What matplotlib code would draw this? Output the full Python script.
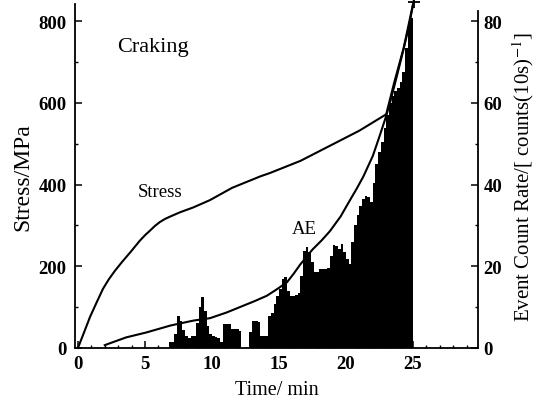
import numpy as np
import matplotlib
matplotlib.use("Agg")
import matplotlib.pyplot as plt
from matplotlib.ticker import MultipleLocator

plt.rcParams['font.family'] = ['Liberation Serif', 'DejaVu Serif']
plt.rcParams['mathtext.fontset'] = 'stix'

# ---- data ----
# AE event count rate histogram: bins of 0.2 min from 6.8 to 25.0 min
bin_start = 6.8
bin_width = 0.2
ae_counts = [
    1.5, 1.5, 3.5, 7.9, 6.5, 4.5, 3.0, 2.5, 3.0, 3.0,      # 6.8 - 8.8
    6.0, 10.0, 12.5, 9.0, 5.5, 3.5, 3.0, 2.7, 2.5, 1.5,    # 8.8 - 10.8
    5.8, 5.9, 5.8, 4.7, 4.7, 4.6, 4.2, 0.0, 0.0, 0.0,      # 10.8 - 12.8
    4.0, 6.6, 6.6, 6.4, 3.0, 3.0, 3.0, 7.9, 8.5, 10.8,     # 12.8 - 14.8
    12.8, 14.5, 16.9, 17.4, 14.0, 12.8, 12.8, 13.0, 13.5, 17.7,  # 14.8 - 16.8
    23.8, 24.8, 23.5, 21.1, 18.6, 18.6, 19.4, 19.4, 19.4, 19.6,  # 16.8 - 18.8
    22.6, 25.3, 25.0, 24.2, 25.5, 23.5, 21.8, 20.6, 26.0, 30.0,  # 18.8 - 20.8
    32.5, 34.8, 36.5, 37.3, 37.0, 35.8, 40.5, 45.0, 48.0, 50.5,  # 20.8 - 22.8
    53.8, 57.0, 60.0, 61.8, 63.0, 63.6, 65.0, 67.5, 73.5, 79.0,  # 22.8 - 24.8
    80.7,                                                       # 24.8 - 25.0
]

# Stress curve (MPa)
stress_t = [0.0, 0.5, 0.9, 1.4, 1.87, 2.3, 2.76, 3.3, 3.9, 4.6, 5.0, 5.4, 5.75, 6.1,
            6.5, 6.9, 7.6, 8.6, 9.85, 11.5, 13.6, 14.3, 16.6, 18.8, 21.0, 23.0,
            23.6, 24.3, 25.05]
stress_v = [0, 42, 76, 112, 145, 168, 189, 211, 234, 262, 276, 288, 299, 308,
            316, 322, 332, 344, 362, 392, 420, 428, 458, 495, 532, 572,
            650, 734, 849]

# AE curve (right axis units)
ae_t = [2.0, 3.6, 5.1, 6.9, 8.6, 9.85, 11.1, 12.3, 13.2, 14.1, 14.9, 15.6, 16.1, 16.6,
        17.5, 18.2, 18.8, 19.6, 20.3, 20.8, 21.3, 22.0, 22.5, 23.0, 23.3, 23.8,
        24.3, 24.7, 25.05]
ae_v = [0.7, 2.6, 3.8, 5.5, 6.7, 7.3, 8.7, 10.3, 11.5, 12.8, 14.5, 16.1, 18.2, 20.5,
        24.1, 26.4, 28.6, 32.2, 36.2, 39.0, 42.0, 47.0, 51.8, 56.8, 60.2, 66.6,
        73.2, 78.8, 84.9]

x_ticks = [0, 5, 10, 15, 20, 25]
y_left_ticks = [0, 200, 400, 600, 800]
y_right_ticks = [0, 20, 40, 60, 80]

# ---- figure ----
W, H = 542, 406
fig = plt.figure(figsize=(W / 100, H / 100), dpi=100)
ax1 = fig.add_axes([75 / W, 1 - 349 / H, (478 - 75) / W, (349 - 5) / H])
ax2 = ax1.twinx()

ymax = 842
ax1.set_xlim(-0.22, 29.85)
ax1.set_ylim(0, ymax)
ax2.set_ylim(0, ymax / 10)

centers = bin_start + bin_width * (np.arange(len(ae_counts)) + 0.5)
ax2.bar(centers, ae_counts, width=bin_width, color='black', linewidth=0, zorder=1)
ax2.plot(ae_t, ae_v, color='black', lw=1.5, zorder=3, solid_joinstyle='round')

ax1.set_zorder(2)
ax1.patch.set_visible(False)
ax1.plot(stress_t, stress_v, color='black', lw=1.5, clip_on=False, solid_joinstyle='round')
ax1.plot([stress_t[-1]], [stress_v[-1] - 2], marker='+', color='black',
         markersize=8, mew=1.3, clip_on=False)

# spines
for a in (ax1, ax2):
    a.spines['top'].set_visible(False)
ax2.spines['left'].set_visible(False)
ax1.spines['right'].set_visible(False)
ax2.spines['right'].set_bounds(0, 82.4)
for s in ('left', 'bottom'):
    ax1.spines[s].set_linewidth(1.3)
ax2.spines['right'].set_linewidth(1.3)
ax2.spines['bottom'].set_visible(False)

# ticks
tickfont = dict(fontsize=13.5, fontweight='bold')
ax1.set_xticks(x_ticks)
ax1.set_xticklabels([str(v) for v in x_ticks], **tickfont)
ax1.set_yticks(y_left_ticks)
ax1.set_yticklabels([str(v) for v in y_left_ticks], **tickfont)
ax2.set_yticks(y_right_ticks)
ax2.set_yticklabels([str(v) for v in y_right_ticks], **tickfont)
ax1.xaxis.set_minor_locator(MultipleLocator(1))
ax1.yaxis.set_minor_locator(MultipleLocator(100))
ax2.yaxis.set_minor_locator(MultipleLocator(10))
ax1.tick_params(axis='both', which='major', direction='in', length=5, width=1.1, pad=5)
ax1.tick_params(axis='both', which='minor', direction='in', length=2.5, width=1.0)
ax1.tick_params(axis='y', pad=6)
ax2.tick_params(axis='y', which='major', direction='in', length=5, width=1.1, pad=4)
ax2.tick_params(axis='y', which='minor', direction='in', length=2.5, width=1.0)

ax1.set_xlabel('Time/ min', fontsize=14.5, labelpad=6)
ax1.set_ylabel('Stress/MPa', fontsize=17, labelpad=4)
ax2.set_ylabel(r'Event Count Rate/[ counts(10s)$^{-1}$]', fontsize=15, labelpad=6)

ax1.text(5.6, 738, 'Craking', fontsize=16, ha='center', va='center')
ax1.text(6.1, 384, 'Stress', fontsize=13.5, ha='center', va='center')
ax1.text(16.9, 293, 'AE', fontsize=13.5, ha='center', va='center')

fig.savefig('out.png', dpi=100)
